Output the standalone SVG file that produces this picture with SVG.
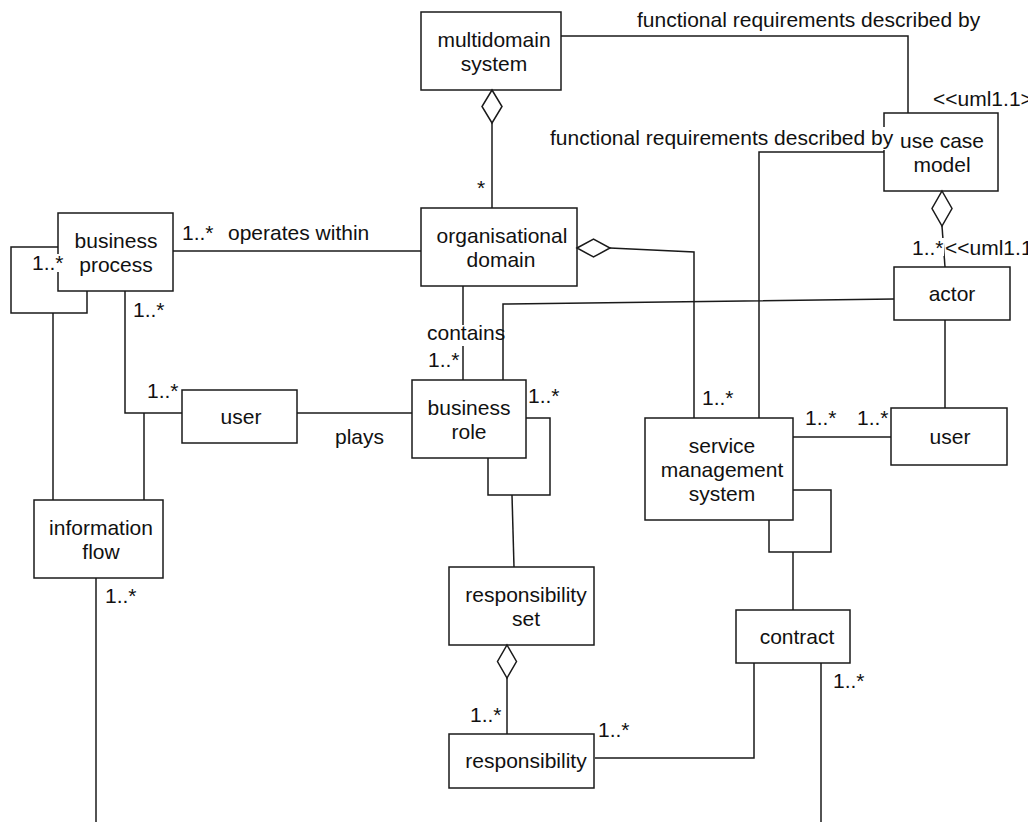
<svg xmlns="http://www.w3.org/2000/svg" width="1028" height="822" viewBox="0 0 1028 822">
<style>
.n rect{fill:#fff;stroke:#1a1a1a;stroke-width:1.5}
text{font-family:"Liberation Sans",Arial,sans-serif;font-size:21px;fill:#111}
.n text{text-anchor:middle}
.c{fill:none;stroke:#1a1a1a;stroke-width:1.5}
.d{fill:#fff;stroke:#1a1a1a;stroke-width:1.5}
.bg{fill:#fff;stroke:none}
</style>
<rect width="1028" height="822" fill="#fff"/>
<g id="connectors">
<polyline class="c" points="561,36 908,36 908,113"/>
<line class="c" x1="492" y1="123" x2="492" y2="208"/>
<line class="c" x1="173" y1="251" x2="421" y2="251"/>
<polyline class="c" points="58,247 11,247 11,313 87,313 87,291"/>
<line class="c" x1="53" y1="313" x2="53" y2="500"/>
<polyline class="c" points="125,291 125,413 182,413"/>
<line class="c" x1="144" y1="413" x2="144" y2="500"/>
<line class="c" x1="297" y1="413" x2="412" y2="413"/>
<line class="c" x1="463" y1="286" x2="463" y2="325"/>
<line class="c" x1="463" y1="346" x2="463" y2="380"/>
<polyline class="c" points="610,248 694,252 694,418"/>
<polyline class="c" points="884,152 759,152 759,418"/>
<line class="c" x1="793" y1="437" x2="891" y2="437"/>
<line class="c" x1="945" y1="320" x2="945" y2="408"/>
<line class="c" x1="942" y1="226" x2="945" y2="267"/>
<polyline class="c" points="526,418 550,418 550,495 488,495 488,458"/>
<line class="c" x1="512" y1="495" x2="514" y2="567"/>
<polyline class="c" points="793,490 831,490 831,552 769,552 769,520"/>
<line class="c" x1="793" y1="552" x2="793" y2="610"/>
<line class="c" x1="507" y1="678" x2="507" y2="734"/>
<polyline class="c" points="595,758 754,758 754,663"/>
<line class="c" x1="821" y1="663" x2="821" y2="822"/>
<line class="c" x1="96" y1="578" x2="96" y2="822"/>
<polyline class="c" points="894,299 503,304 503,380"/>
</g>
<g id="multidomain-system" class="n"><rect x="421" y="12" width="140" height="78"/><text x="494" y="47">multidomain</text><text x="494" y="71">system</text></g>
<g id="use-case-model" class="n"><rect x="884" y="113" width="114" height="78"/><text x="942" y="148">use case</text><text x="942" y="172">model</text></g>
<g id="organisational-domain" class="n"><rect x="421" y="208" width="156" height="78"/><text x="502" y="243">organisational</text><text x="501" y="267">domain</text></g>
<g id="business-process" class="n"><rect x="58" y="213" width="115" height="78"/><text x="116" y="248">business</text><text x="116" y="272">process</text></g>
<g id="actor" class="n"><rect x="894" y="267" width="116" height="53"/><text x="952" y="301">actor</text></g>
<g id="user-left" class="n"><rect x="182" y="390" width="115" height="53"/><text x="241" y="424">user</text></g>
<g id="business-role" class="n"><rect x="412" y="380" width="114" height="78"/><text x="469" y="415">business</text><text x="469" y="439">role</text></g>
<g id="service-management-system" class="n"><rect x="645" y="418" width="148" height="102"/><text x="722" y="453">service</text><text x="722" y="477">management</text><text x="722" y="501">system</text></g>
<g id="user-right" class="n"><rect x="891" y="408" width="116" height="57"/><text x="950" y="444">user</text></g>
<g id="information-flow" class="n"><rect x="34" y="500" width="129" height="78"/><text x="101" y="535">information</text><text x="101" y="559">flow</text></g>
<g id="responsibility-set" class="n"><rect x="449" y="567" width="145" height="78"/><text x="526" y="602">responsibility</text><text x="526" y="626">set</text></g>
<g id="contract" class="n"><rect x="736" y="610" width="114" height="53"/><text x="797" y="644">contract</text></g>
<g id="responsibility" class="n"><rect x="449" y="734" width="145" height="54"/><text x="526" y="768">responsibility</text></g>
<g id="diamonds">
<polygon class="d" points="492,90 502,106.5 492,123 482,106.5"/>
<polygon class="d" points="577,248 593.5,239 610,248 593.5,257"/>
<polygon class="d" points="942,191 952,208.5 942,226 932,208.5"/>
<polygon class="d" points="507,645 516.5,661.5 507,678 497.5,661.5"/>
</g>
<g id="labels">
<text x="637" y="27">functional requirements described by</text>
<rect class="bg" x="548" y="127" width="351" height="23"/>
<text x="550" y="145">functional requirements described by</text>
<text x="933" y="106">&lt;&lt;uml1.1&gt;&gt;</text>
<text x="477" y="195">*</text>
<text x="182" y="240">1..*</text>
<text x="228" y="240">operates within</text>
<rect class="bg" x="31" y="254" width="32" height="18"/>
<text x="32" y="270">1..*</text>
<text x="133" y="317">1..*</text>
<text x="147" y="398">1..*</text>
<text x="335" y="444">plays</text>
<text x="427" y="340">contains</text>
<text x="428" y="367">1..*</text>
<rect class="bg" x="527" y="386" width="29" height="18"/>
<text x="528" y="403">1..*</text>
<rect class="bg" x="912" y="238" width="32" height="18"/>
<text x="912" y="255">1..*</text>
<text x="945" y="255">&lt;&lt;uml1.1&gt;&gt;</text>
<text x="702" y="405">1..*</text>
<text x="805" y="425">1..*</text>
<text x="857" y="425">1..*</text>
<text x="105" y="603">1..*</text>
<text x="470" y="722">1..*</text>
<text x="598" y="737">1..*</text>
<text x="833" y="688">1..*</text>
</g>
</svg>
